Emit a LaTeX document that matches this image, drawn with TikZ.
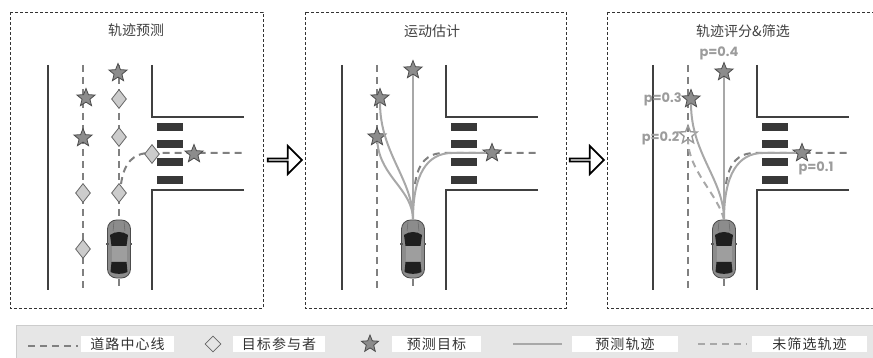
\documentclass[tikz,border=0pt]{standalone}
\usepackage{fontspec}
\newfontfamily\cjk{Noto Sans CJK SC}
\newfontfamily\cjkwide{Noto Sans CJK SC}[LetterSpace=8]
\newfontfamily\pfont{Poppins}
\usetikzlibrary{positioning,shapes.geometric,shapes.arrows}

\definecolor{roadgray}{HTML}{404040}
\definecolor{lanegray}{HTML}{808080}
\definecolor{trajgray}{HTML}{A8A8A8}
\definecolor{stargray}{HTML}{8C8C8C}
\definecolor{labelgray}{HTML}{9C9C9C}
\definecolor{legendbg}{HTML}{E6E6E6}

\begin{document}
\begin{tikzpicture}[
  x=1pt, y=-1pt,
  panel/.style={draw=black!80, line width=0.9pt, dash pattern=on 3pt off 2pt},
  title/.style={font=\cjk\fontsize{14}{16}\selectfont, text=black!75},
  road/.style={draw=roadgray, line width=2.2pt},
  lane/.style={draw=lanegray, line width=2pt, dash pattern=on 7pt off 5pt},
  zebra/.style={fill=black!78},
  traj/.style={draw=trajgray, line width=2pt},
  dropped/.style={draw=trajgray, line width=2pt, dash pattern=on 7pt off 5pt},
  target/.style={star, star points=5, star point ratio=2.3, minimum size=19pt, inner sep=0pt,
    fill=stargray, draw=black!70, line width=0.8pt},
  ghost/.style={target, fill=none, draw=black!40, line width=1.4pt},
  agent/.style={diamond, minimum width=15pt, minimum height=19pt, inner sep=0pt,
    fill=black!20, draw=black!60, line width=0.8pt},
  prob/.style={font=\pfont\bfseries\fontsize{13}{14}\selectfont, text=labelgray, inner sep=0pt},
  carbody/.style={draw=black!70, fill=black!45, line width=0.8pt, rounded corners=9pt,
    minimum width=23pt, minimum height=58pt, inner sep=0pt},
  key/.style={fill=white, font=\cjkwide\fontsize{14}{16}\selectfont, text=black!80,
    minimum height=16pt, inner sep=0pt},
  blockarrow/.style={single arrow, draw=black, line width=1.8pt, fill=white,
    minimum width=28pt, minimum height=34pt, single arrow head extend=7pt, inner sep=0pt},
  car/.pic={
    \node[carbody] (-body) at (0,0) {};
    % mirrors
    \fill[black!65] (-13,-6) rectangle (-10.5,-4);
    \fill[black!65] (10.5,-6) rectangle (13,-4);
    % bonnet lines
    \draw[black!60, line width=0.5pt] (-5,-27) -- (-6,-18) (5,-27) -- (6,-18);
    % windscreen, roof, rear window
    \fill[black!88] (-9,-14) .. controls (-4,-18) and (4,-18) .. (9,-14) -- (7.5,-3) -- (-7.5,-3) -- cycle;
    \fill[black!38] (-7.5,-3) rectangle (7.5,13);
    \fill[black!88] (-7.5,13) -- (7.5,13) -- (8.5,23) .. controls (4,25.5) and (-4,25.5) .. (-8.5,23) -- cycle;
  }
]
\useasboundingbox (0,0) rectangle (873,358);

% panels
\draw[panel] (10,12) rectangle (263,308);
\draw[panel] (305,12) rectangle (566,308);
\draw[panel] (607,12) rectangle (880,308);
\node[title] (t1) at (136,30) {轨迹预测};
\node[title] (t2) at (432,31) {运动估计};
\node[title] (t3) at (743,31) {轨迹评分\&筛选};

% the same crossing in every panel
\foreach \dx in {0,294,605} {
  \begin{scope}[xshift=\dx pt]
    \draw[road] (48,65) -- (48,290);
    \draw[road] (152,65) -- (152,117) -- (244,117);
    \draw[road] (244,190) -- (152,190) -- (152,290);
    \draw[lane] (83,65) -- (83,290);
    \draw[lane] (119,279) -- (119,290);
    \draw[lane] (121,184) .. controls (124,163) and (133,153) .. (150,153) -- (245,153);
    \foreach \y in {127,144,162,180}
      \fill[zebra] (157,\y-4) rectangle (183,\y+4);
  \end{scope}
}

% trajectory prediction
\draw[lane] (119,65) -- (119,279);
\node[agent] (d1a) at (119,99) {};
\node[agent] (d1b) at (119,137) {};
\node[agent] (d1c) at (152,154) {};
\node[agent] (d1d) at (83,193) {};
\node[agent] (d1e) at (119,193) {};
\node[agent] (d1f) at (83,249) {};
\node[target] (s1a) at (118,73) {};
\node[target] (s1b) at (86,98) {};
\node[target] (s1c) at (83,138) {};
\node[target] (s1d) at (194,154) {};
\pic (car1) at (119,249) {car};

% motion estimation
\pic (car2) at (413,249) {car};
\node[target] (s2a) at (413,70) {};
\node[target] (s2b) at (380,98) {};
\node[target] (s2c) at (377,137) {};
\node[target] (s2d) at (492,153) {};
\draw[traj] (car2-body.north) -- (s2a);
\draw[traj] (car2-body.north) .. controls +(0,-40) and +(0,55) .. (s2b);
\draw[traj] (car2-body.north) .. controls +(0,-30) and +(3,40) .. (s2c);
\draw[traj] (car2-body.north) .. controls +(0,-45) and +(-25,0) .. (452,153) -- (s2d);

% scoring and filtering
\pic (car3) at (724,249) {car};
\node[target] (s3a) at (724,72) {};
\node[target] (s3b) at (691,99) {};
\node[ghost] (s3c) at (688,135) {};
\node[target] (s3d) at (802,153) {};
\node[prob, above=1pt of s3a, xshift=-5pt] (p3a) {p=0.4};
\node[prob, left=3pt of s3b] (p3b) {p=0.3};
\node[prob, left=2pt of s3c, yshift=-3pt] (p3c) {p=0.2};
\node[prob, below=4pt of s3d, xshift=14pt] (p3d) {p=0.1};
\draw[traj] (car3-body.north) -- (s3a);
\draw[traj] (car3-body.north) .. controls +(0,-40) and +(0,55) .. (s3b);
\draw[dropped] (car3-body.north) .. controls +(-6,-25) and +(0,35) .. (s3c);
\draw[traj] (car3-body.north) .. controls +(0,-45) and +(-25,0) .. (763,153) -- (s3d);

% arrows between panels
\node[blockarrow] (a12) at (284,160) {};
\node[blockarrow] (a23) at (586,160) {};

% legend
\fill[legendbg] (16,325) rectangle (880,365);
\draw[black!20] (16,365) -- (16,325) -- (880,325);
\draw[lane, line width=1.6pt] (28,346) -- (78,346);
\node[key, minimum width=93pt] (k1) at (127.5,344) {道路中心线};
\node[agent, minimum width=16pt, minimum height=16pt, fill=black!10] (k2sym) at (213,344) {};
\node[key, minimum width=92pt] (k2) at (279,344) {目标参与者};
\node[target, minimum size=18pt] (k3sym) at (370,344) {};
\node[key, minimum width=89pt] (k3) at (436.5,344) {预测目标};
\draw[traj] (513,344) -- (562,344);
\node[key, minimum width=106pt] (k4) at (625,344) {预测轨迹};
\draw[dropped, line width=1.6pt] (698,344) -- (747,344);
\node[key, minimum width=115pt] (k5) at (809.5,344) {未筛选轨迹};
\end{tikzpicture}
\end{document}
